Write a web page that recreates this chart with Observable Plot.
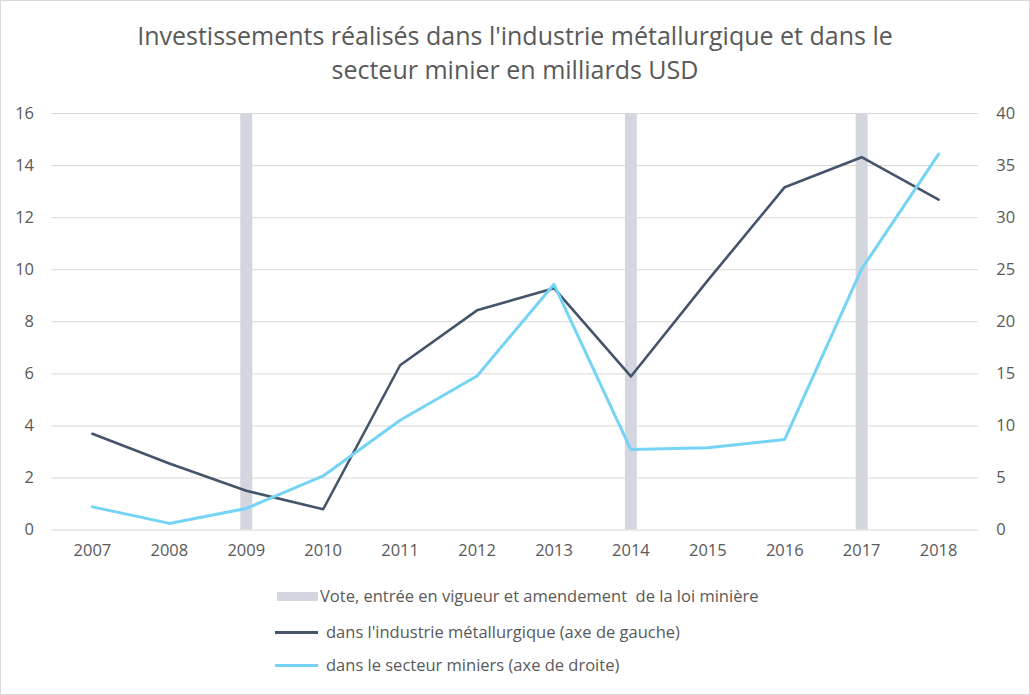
<!DOCTYPE html>
<html><head><meta charset="utf-8">
<script src="https://cdn.jsdelivr.net/npm/d3@7"></script>
<script src="https://cdn.jsdelivr.net/npm/@observablehq/plot@0.6"></script>
<style>
body{margin:0;background:#fff;font-family:"Open Sans",sans-serif;}
#wrap{position:relative;width:1028px;height:693px;border:1px solid #d9d9d9;overflow:hidden;background:#fff}
#title{position:absolute;top:17px;left:0;width:1028px;text-align:center;font-size:25px;line-height:34px;color:#595959}
#chart{position:absolute;top:99px;left:-1px}
.li{position:absolute;font-size:16.5px;color:#595959;white-space:pre;height:22px;line-height:22px}
.sw{position:absolute}
</style></head>
<body>
<div id="wrap">
  <div id="title">Investissements réalisés dans l'industrie métallurgique et dans le<br>secteur minier en milliards USD</div>
  <div id="chart"></div>
  <div class="sw" style="left:276px;top:591px;width:41px;height:9px;background:#d3d6de"></div>
  <div class="li" style="left:319px;top:584px">Vote, entrée en vigueur et amendement  de la loi minière</div>
  <div class="sw" style="left:274px;top:629.5px;width:43px;height:3px;background:#44546a"></div>
  <div class="li" style="left:325px;top:620px">dans l'industrie métallurgique (axe de gauche)</div>
  <div class="sw" style="left:274px;top:662.5px;width:43px;height:3px;background:#75d3f5"></div>
  <div class="li" style="left:325px;top:653px">dans le secteur miniers (axe de droite)</div>
</div>
<script>
const years = ["2007","2008","2009","2010","2011","2012","2013","2014","2015","2016","2017","2018"];
const metal = [3.70, 2.56, 1.51, 0.80, 6.33, 8.44, 9.29, 5.90, 9.59, 13.17, 14.32, 12.69];
const mining = [2.23, 0.64, 2.08, 5.2, 10.55, 14.8, 23.6, 7.73, 7.9, 8.7, 25.07, 36.1];
const lawYears = ["2009", "2014", "2017"];
const leftTicks = [0, 2, 4, 6, 8, 10, 12, 14, 16];
const rightTicks = [0, 5, 10, 15, 20, 25, 30, 35, 40];

const ratio = 16 / 40;
const data = years.map((y, i) => ({year: y, metal: metal[i], mining: mining[i] * ratio}));

const chart = Plot.plot({
  width: 1030,
  height: 470,
  marginTop: 13,
  marginBottom: 40,
  marginLeft: 51.5,
  marginRight: 51.3,
  x: {type: "point", domain: years, padding: 0.5},
  y: {domain: [0, 16]},
  style: {fontFamily: "Open Sans, sans-serif", fontSize: "16.5px", color: "#595959", background: "transparent"},
  marks: [
    Plot.ruleX(lawYears, {x: d => d, y1: 0, y2: 16, stroke: "#d3d6de", strokeWidth: 12}),
    Plot.ruleY(leftTicks, {y: d => d, stroke: "#d9d9d9", strokeWidth: 1}),
    Plot.axisY({ticks: leftTicks, anchor: "left", tickSize: 0, tickPadding: 18, label: null}),
    Plot.axisY({ticks: rightTicks.map(v => v * ratio), anchor: "right", tickSize: 0, tickPadding: 18, label: null,
      tickFormat: d => String(Math.round(d / ratio))}),
    Plot.axisX({tickSize: 0, tickPadding: 14, label: null}),
    Plot.line(data, {x: "year", y: "metal", stroke: "#44546a", strokeWidth: 2.6}),
    Plot.line(data, {x: "year", y: "mining", stroke: "#75d3f5", strokeWidth: 3})
  ]
});
document.getElementById("chart").appendChild(chart);
</script>
</body></html>
